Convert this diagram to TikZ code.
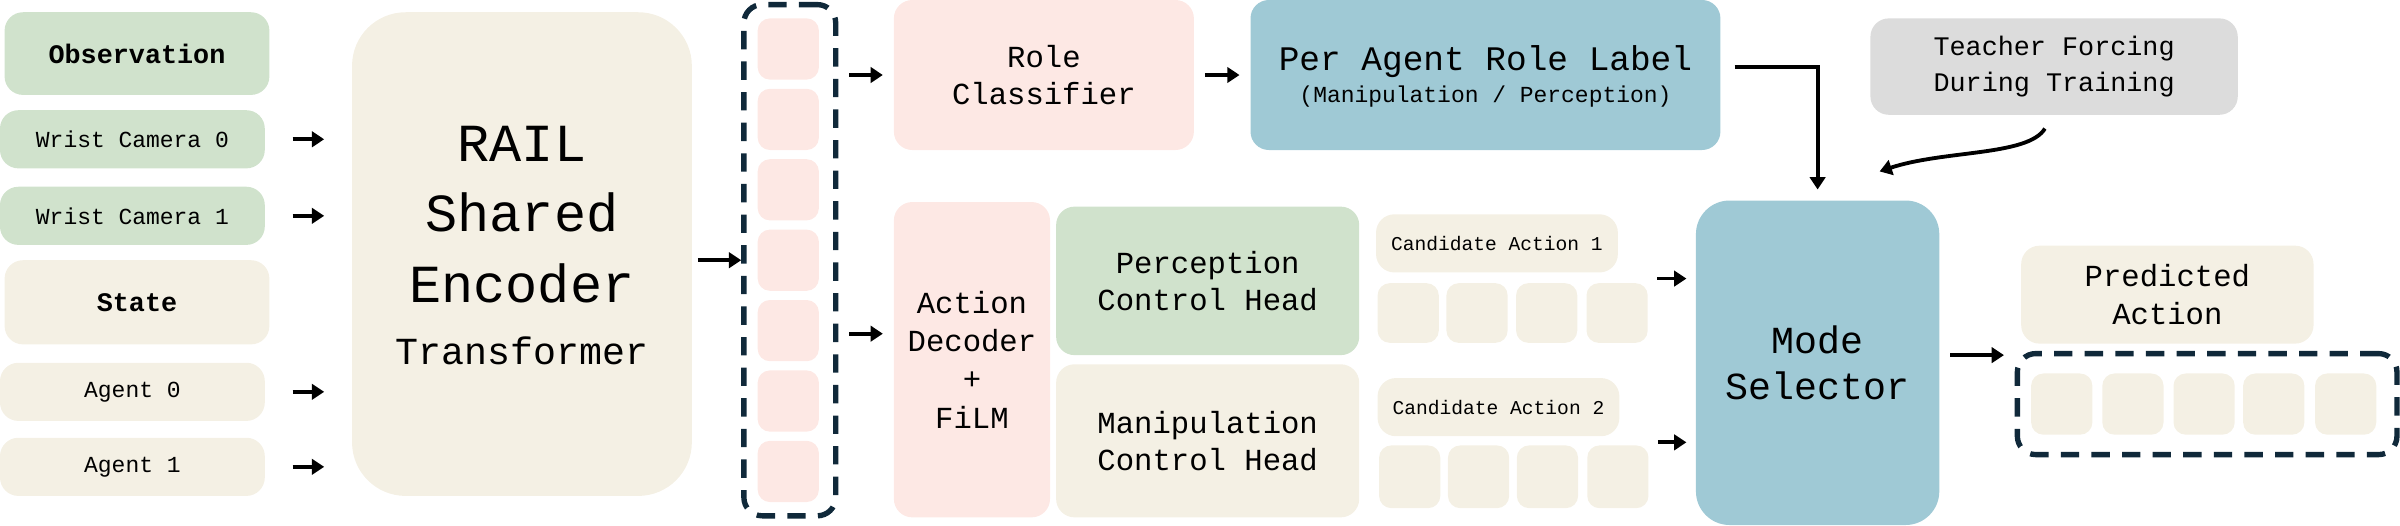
\documentclass[tikz,border=0pt]{standalone}
\usepackage{fontspec}
\setmainfont{Liberation Mono}
\usetikzlibrary{arrows.meta}
\definecolor{cgreen}{HTML}{D0E2CC}
\definecolor{ccream}{HTML}{F4F0E4}
\definecolor{cpink}{HTML}{FDE8E4}
\definecolor{cblue}{HTML}{9FC9D5}
\definecolor{cgray}{HTML}{DCDCDC}
\definecolor{cdash}{HTML}{10293A}
\newcommand{\fs}[2]{\fontsize{#1}{#2}\selectfont}
\tikzset{
  box/.style={rounded corners=12pt, inner sep=0pt, align=center, draw=none},
  green/.style={box, fill=cgreen}, cream/.style={box, fill=ccream},
  pink/.style={box, fill=cpink}, blue/.style={box, fill=cblue}, gray/.style={box, fill=cgray},
  tok/.style={box, rounded corners=8pt, minimum width=40pt, minimum height=40pt},
  dashbox/.style={draw=cdash, line width=3.5pt, dash pattern=on 12pt off 8pt, rounded corners=12pt, inner sep=0pt},
  arr/.style={line width=2.5pt, -{Triangle[length=8pt,width=10pt]}},
  sarr/.style={arr, shorten <=#1, shorten >=#1}, sarr/.default=18pt
}
\begin{document}
\begin{tikzpicture}[x=1pt,y=-1pt]
\useasboundingbox (0,0) rectangle (1568,343);
% inputs
\node[green, minimum width=173pt, minimum height=54pt, font=\fs{17.5}{21}\bfseries] (obs) at (89.5,35) {Observation};
\node[green, minimum width=173pt, minimum height=38pt, font=\fs{15}{18}] (wc0) at (86.5,91) {Wrist Camera 0};
\node[green, minimum width=173pt, minimum height=38pt, font=\fs{15}{18}] (wc1) at (86.5,141) {Wrist Camera 1};
\node[cream, minimum width=173pt, minimum height=55pt, font=\fs{17.5}{21}\bfseries] (st) at (89.5,197.5) {State};
\node[cream, minimum width=173pt, minimum height=38pt, font=\fs{15}{18}] (ag0) at (86.5,256) {Agent 0};
\node[cream, minimum width=173pt, minimum height=38pt, font=\fs{15}{18}] (ag1) at (86.5,305) {Agent 1};
% encoder
\node[cream, rounded corners=35pt, minimum width=222pt, minimum height=316pt] (enc) at (341,166) {};
\node[align=center, font=\fs{35}{46}] (enct) at (341,140) {RAIL\\Shared\\Encoder};
\node[font=\fs{25}{30}] (enct2) at (341,229) {Transformer};
\foreach \n in {wc0,wc1,ag0,ag1} \draw[sarr] (\n.east) -- (\n.east -| enc.west);
% tokens
\node[dashbox, minimum width=60pt, minimum height=334pt] (tk) at (516,170) {};
\foreach \i/\y in {1/32,2/78,3/124,4/170,5/216,6/262,7/308}
  \node[pink, tok] (t\i) at (515,\y) {};
\draw[arr] (456,170) coordinate (e1) -- (e1 -| tk.west) ;
% role
\node[pink, minimum width=196pt, minimum height=98pt, font=\fs{20}{24}] (role) at (682,49) {Role\\Classifier};
\node[blue, minimum width=307pt, minimum height=98pt] (lab) at (970.5,49) {};
\node[font=\fs{22.5}{26}] (labt) at (970.5,40) {Per Agent Role Label};
\node[font=\fs{15}{18}] (labs) at (970.5,63) {(Manipulation / Perception)};
\node[gray, minimum width=240pt, minimum height=63pt, font=\fs{17.5}{24}] (teach) at (1342,43.5) {Teacher Forcing\\During Training};
% decoder
\node[pink, minimum width=102pt, minimum height=206pt, font=\fs{20}{25}] (dec) at (635,235) {Action\\Decoder\\+\\FiLM};
\node[green, minimum width=198pt, minimum height=97pt, font=\fs{20}{24}] (perc) at (789,183.5) {Perception\\Control Head};
\node[cream, minimum width=198pt, minimum height=100pt, font=\fs{20}{24}] (man) at (789,288) {Manipulation\\Control Head};
\draw[sarr=7pt] (tk.east |- role) -- (role.west);
\draw[sarr=7pt] (tk.east |- 0,218) -- (dec.west |- 0,218);
\draw[sarr=7pt] (role.east) -- (lab.west |- role.east);
% candidates
\node[cream, minimum width=158pt, minimum height=38pt, font=\fs{12.8}{15}] (ca1) at (978,159) {Candidate Action 1};
\node[cream, minimum width=158pt, minimum height=38pt, font=\fs{12.8}{15}] (ca2) at (979,266) {Candidate Action 2};
\foreach \i/\x in {1/920,2/965,3/1010.5,4/1056.5} \node[cream, tok, minimum height=39pt] (p\i) at (\x,204.5) {};
\foreach \i/\x in {1/921,2/966,3/1011,4/1057} \node[cream, tok, minimum height=41pt] (m\i) at (\x,311.5) {};
% mode selector
\node[blue, rounded corners=22pt, minimum width=159pt, minimum height=212pt, font=\fs{25}{30}] (mode) at (1187.5,237) {Mode\\Selector};
\draw[sarr=6pt] (p4.east |- 0,182) -- (mode.west |- 0,182);
\draw[sarr=6pt] (m4.east |- 0,289) -- (mode.west |- 0,289);
\draw[arr, shorten <=9pt, shorten >=7pt] (lab.east |- 0,44) -| (mode.north);
\coordinate (tfs) at (1336,84);
\coordinate (tfe) at (1228,112);
\draw[arr] (tfs) .. controls (1325,102) and (1270,98) .. (tfe);
% output
\node[cream, minimum width=191pt, minimum height=64pt, font=\fs{20}{25}] (pred) at (1416,192.5) {Predicted\\Action};
\node[dashbox, minimum width=248pt, minimum height=66pt] (pb) at (1442,264) {};
\foreach \i/\x in {1/1347,2/1393.5,3/1440,4/1485.5,5/1532.5} \node[cream, tok] (o\i) at (\x,264) {};
\draw[sarr=7pt] (mode.east |- 0,232) -- (pb.west |- 0,232);
\end{tikzpicture}
\end{document}
